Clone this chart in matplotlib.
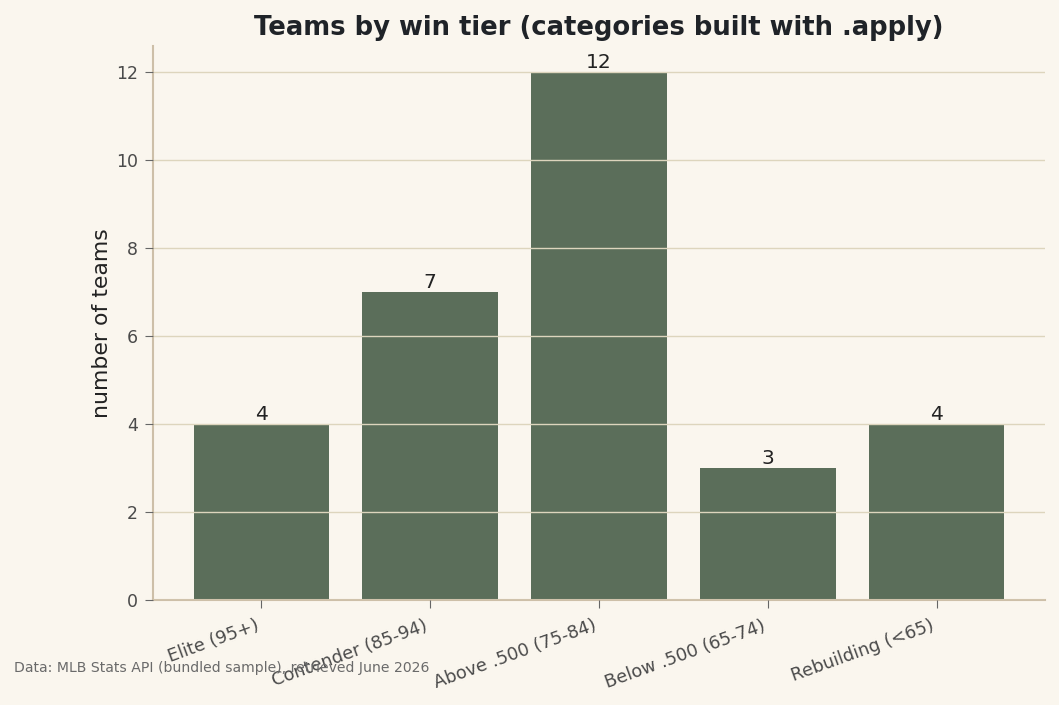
import matplotlib
matplotlib.use("Agg")
import numpy as np
from matplotlib import pyplot as plt

# data
tiers = ["Elite (95+)", "Contender (85-94)", "Above .500 (75-84)",
         "Below .500 (65-74)", "Rebuilding (<65)"]
counts = [4, 7, 12, 3, 4]

BG = "#faf6ee"
BAR = "#5b6e5a"
GRID = "#ddd5bd"
SPINE = "#cdbfa8"


def main():
    fig = plt.figure(figsize=(10.59, 7.05), dpi=100, facecolor=BG)
    ax = fig.add_axes([153 / 1059, 1 - 600 / 705, (1045 - 153) / 1059, (600 - 46) / 705])
    ax.set_facecolor(BG)

    x = np.arange(len(tiers))
    bars = ax.bar(x, counts, width=0.8, color=BAR, zorder=2)
    ax.bar_label(bars, labels=[str(c) for c in counts], padding=0,
                 fontsize=14.6, color="#222222")

    ax.yaxis.grid(True, color=GRID, linewidth=1, zorder=3)
    ax.set_axisbelow(False)
    ax.set_xticks(x)
    ax.set_xticklabels(tiers, rotation=20, ha="right", fontsize=12.8, color="#4a4a4a")
    ax.tick_params(axis="y", labelsize=12.5, labelcolor="#4a4a4a", color="#666666",
                   length=6, pad=5)
    ax.tick_params(axis="x", color="#666666", length=6, pad=6)
    for s in ("top", "right"):
        ax.spines[s].set_visible(False)
    for s in ("left", "bottom"):
        ax.spines[s].set_color(SPINE)
        ax.spines[s].set_linewidth(1.5)

    ax.set_ylabel("number of teams", fontsize=15.8, color="#222222", labelpad=3)
    ax.set_title("Teams by win tier (categories built with .apply)",
                 fontsize=18.6, fontweight="bold", color="#1f2328", pad=8)

    fig.text(14 / 1059, 1 - 668 / 705, "Data: MLB Stats API (bundled sample), retrieved June 2026",
             fontsize=10.1, color="#6a6a6a", va="center", ha="left")

    plt.savefig("out.png", dpi=100, facecolor=BG)
    plt.close()


if __name__ == "__main__":
    main()
